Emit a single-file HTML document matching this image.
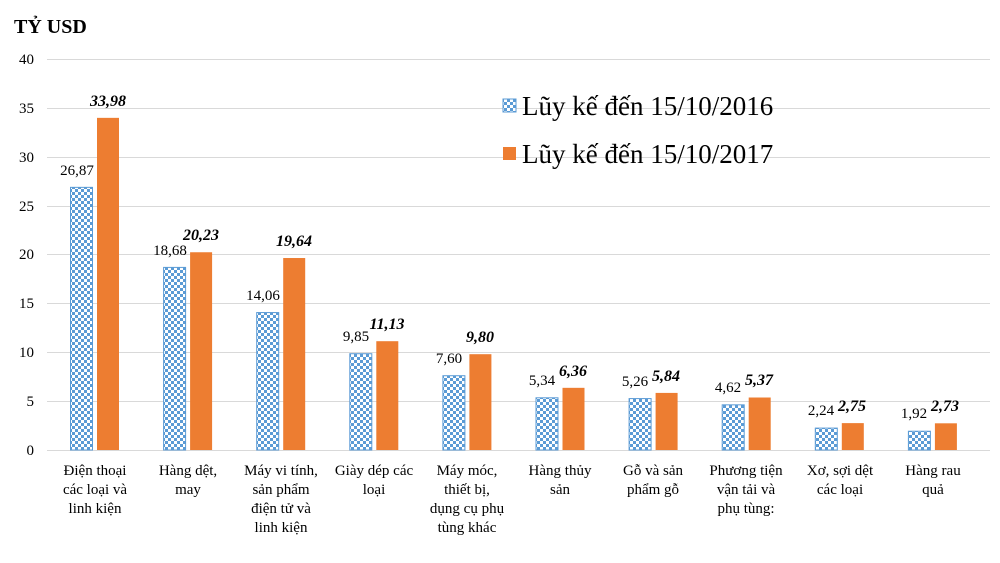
<!DOCTYPE html><html><head><style>body{margin:0;background:#fff}svg{display:block}text{font-family:"Liberation Serif",serif;fill:#000}</style></head><body>
<svg width="1000" height="563" xmlns="http://www.w3.org/2000/svg">
<defs><pattern id="ck" width="6" height="6" patternUnits="userSpaceOnUse"><rect width="6" height="6" fill="#fff"/><rect width="3" height="3" fill="#5b9bd5"/><rect x="3" y="3" width="3" height="3" fill="#5b9bd5"/></pattern></defs>
<text x="14" y="33" font-size="20" font-weight="bold">TỶ USD</text>
<g stroke="#d9d9d9" stroke-width="1">
<line x1="47" x2="990" y1="59.5" y2="59.5"/><line x1="47" x2="990" y1="108.5" y2="108.5"/><line x1="47" x2="990" y1="157.5" y2="157.5"/><line x1="47" x2="990" y1="206.5" y2="206.5"/><line x1="47" x2="990" y1="254.5" y2="254.5"/><line x1="47" x2="990" y1="303.5" y2="303.5"/><line x1="47" x2="990" y1="352.5" y2="352.5"/><line x1="47" x2="990" y1="401.5" y2="401.5"/><line x1="47" x2="990" y1="450.5" y2="450.5"/></g>
<g font-size="15" text-anchor="end"><text x="34" y="64">40</text><text x="34" y="113">35</text><text x="34" y="162">30</text><text x="34" y="211">25</text><text x="34" y="259">20</text><text x="34" y="308">15</text><text x="34" y="357">10</text><text x="34" y="406">5</text><text x="34" y="455">0</text></g>
<g stroke="#5b9bd5" fill="url(#ck)">
<rect x="70.5" y="187.35" width="22" height="262.65"/>
<rect x="163.6" y="267.4" width="22" height="182.6"/>
<rect x="256.7" y="312.56" width="22" height="137.44"/>
<rect x="349.8" y="353.72" width="22" height="96.28"/>
<rect x="442.9" y="375.71" width="22" height="74.29"/>
<rect x="536" y="397.8" width="22" height="52.2"/>
<rect x="629.1" y="398.58" width="22" height="51.42"/>
<rect x="722.2" y="404.84" width="22" height="45.16"/>
<rect x="815.3" y="428.1" width="22" height="21.9"/>
<rect x="908.4" y="431.23" width="22" height="18.77"/>
</g>
<g fill="#ed7d31">
<rect x="97" y="117.85" width="22" height="332.15"/>
<rect x="190.1" y="252.25" width="22" height="197.75"/>
<rect x="283.2" y="258.02" width="22" height="191.98"/>
<rect x="376.3" y="341.2" width="22" height="108.8"/>
<rect x="469.4" y="354.2" width="22" height="95.8"/>
<rect x="562.5" y="387.83" width="22" height="62.17"/>
<rect x="655.6" y="392.91" width="22" height="57.09"/>
<rect x="748.7" y="397.51" width="22" height="52.49"/>
<rect x="841.8" y="423.12" width="22" height="26.88"/>
<rect x="934.9" y="423.31" width="22" height="26.69"/>
</g>
<g font-size="15" text-anchor="middle">
<text x="77" y="175">26,87</text>
<text x="170" y="255">18,68</text>
<text x="263" y="300">14,06</text>
<text x="356" y="341">9,85</text>
<text x="449" y="363">7,60</text>
<text x="542" y="385">5,34</text>
<text x="635" y="386">5,26</text>
<text x="728" y="392">4,62</text>
<text x="821" y="415">2,24</text>
<text x="914" y="418">1,92</text>
</g>
<g font-size="16" font-weight="bold" font-style="italic" text-anchor="middle">
<text x="108" y="106">33,98</text>
<text x="201" y="240">20,23</text>
<text x="294" y="246">19,64</text>
<text x="387" y="329">11,13</text>
<text x="480" y="342">9,80</text>
<text x="573" y="376">6,36</text>
<text x="666" y="381">5,84</text>
<text x="759" y="385">5,37</text>
<text x="852" y="411">2,75</text>
<text x="945" y="411">2,73</text>
</g>
<g font-size="15" text-anchor="middle">
<text x="95" y="475">Điện thoại</text><text x="95" y="494">các loại và</text><text x="95" y="513">linh  kiện</text>
<text x="188" y="475">Hàng dệt,</text><text x="188" y="494">may</text>
<text x="281" y="475">Máy vi tính,</text><text x="281" y="494">sản phẩm</text><text x="281" y="513">điện tử và</text><text x="281" y="532">linh kiện</text>
<text x="374" y="475">Giày dép các</text><text x="374" y="494">loại</text>
<text x="467" y="475">Máy móc,</text><text x="467" y="494">thiết bị,</text><text x="467" y="513">dụng cụ phụ</text><text x="467" y="532">tùng khác</text>
<text x="560" y="475">Hàng thủy</text><text x="560" y="494">sản</text>
<text x="653" y="475">Gỗ và sản</text><text x="653" y="494">phẩm gỗ</text>
<text x="746" y="475">Phương tiện</text><text x="746" y="494">vận tải và</text><text x="746" y="513">phụ tùng:</text>
<text x="840" y="475">Xơ, sợi dệt</text><text x="840" y="494">các loại</text>
<text x="933" y="475">Hàng rau</text><text x="933" y="494">quả</text>
</g>
<rect x="503" y="99" width="13" height="13" fill="url(#ck)" stroke="#5b9bd5"/><text x="522" y="115" font-size="27">Lũy kế đến 15/10/2016</text>
<rect x="503" y="147" width="13" height="13" fill="#ed7d31"/><text x="522" y="163" font-size="27">Lũy kế đến 15/10/2017</text>
</svg></body></html>
